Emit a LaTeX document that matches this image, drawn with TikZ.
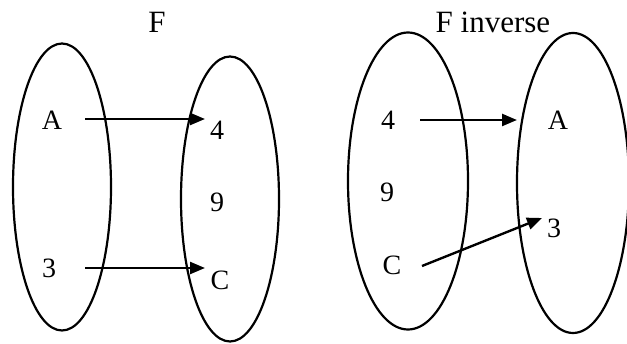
\documentclass[tikz,border=0pt]{standalone}
\usepackage{fontspec}
\setmainfont{Liberation Serif}
\usetikzlibrary{shapes.geometric,arrows.meta}
\begin{document}
\begin{tikzpicture}[x=1pt,y=-1pt,
  setshape/.style={draw,ellipse,line width=2.2pt,inner sep=0pt},
  lbl/.style={font=\fontsize{28}{28}\selectfont,inner sep=0pt,anchor=center},
  ttl/.style={font=\fontsize{31}{31}\selectfont,inner sep=0pt,anchor=center},
  maparrow/.style={line width=2.4pt,-{Triangle[length=15pt,width=12pt]}}]
\useasboundingbox (0,0) rectangle (627,344);
\node[setshape,minimum width=98pt,minimum height=287pt] (e1) at (62,187) {};
\node[setshape,minimum width=98pt,minimum height=285pt] (e2) at (230,199) {};
\node[setshape,minimum width=120pt,minimum height=297pt] (e3) at (408,181) {};
\node[setshape,minimum width=112pt,minimum height=300pt] (e4) at (573,183) {};
\node[ttl] (t1) at (157,22) {F};
\node[ttl] (t2) at (493,22) {F inverse};
\node[lbl] (a1) at (52,120) {A};
\node[lbl] (n31) at (49,268) {3};
\node[lbl] (n41) at (217,130) {4};
\node[lbl] (n91) at (217,202) {9};
\node[lbl] (c1) at (220,280) {C};
\node[lbl] (n42) at (388,120) {4};
\node[lbl] (n92) at (387,192) {9};
\node[lbl] (c2) at (392,265) {C};
\node[lbl] (a2) at (558,120) {A};
\node[lbl] (n32) at (554,228) {3};
\coordinate (s1) at (85,119);
\coordinate (d1) at (205,119);
\coordinate (s2) at (85,268);
\coordinate (d2) at (205,268);
\coordinate (s3) at (420,120);
\coordinate (d3) at (517,120);
\coordinate (s4) at (422,266);
\coordinate (d4) at (542,218);
\draw[maparrow] (s1) -- (d1);
\draw[maparrow] (s2) -- (d2);
\draw[maparrow] (s3) -- (d3);
\draw[maparrow] (s4) -- (d4);
\end{tikzpicture}
\end{document}
